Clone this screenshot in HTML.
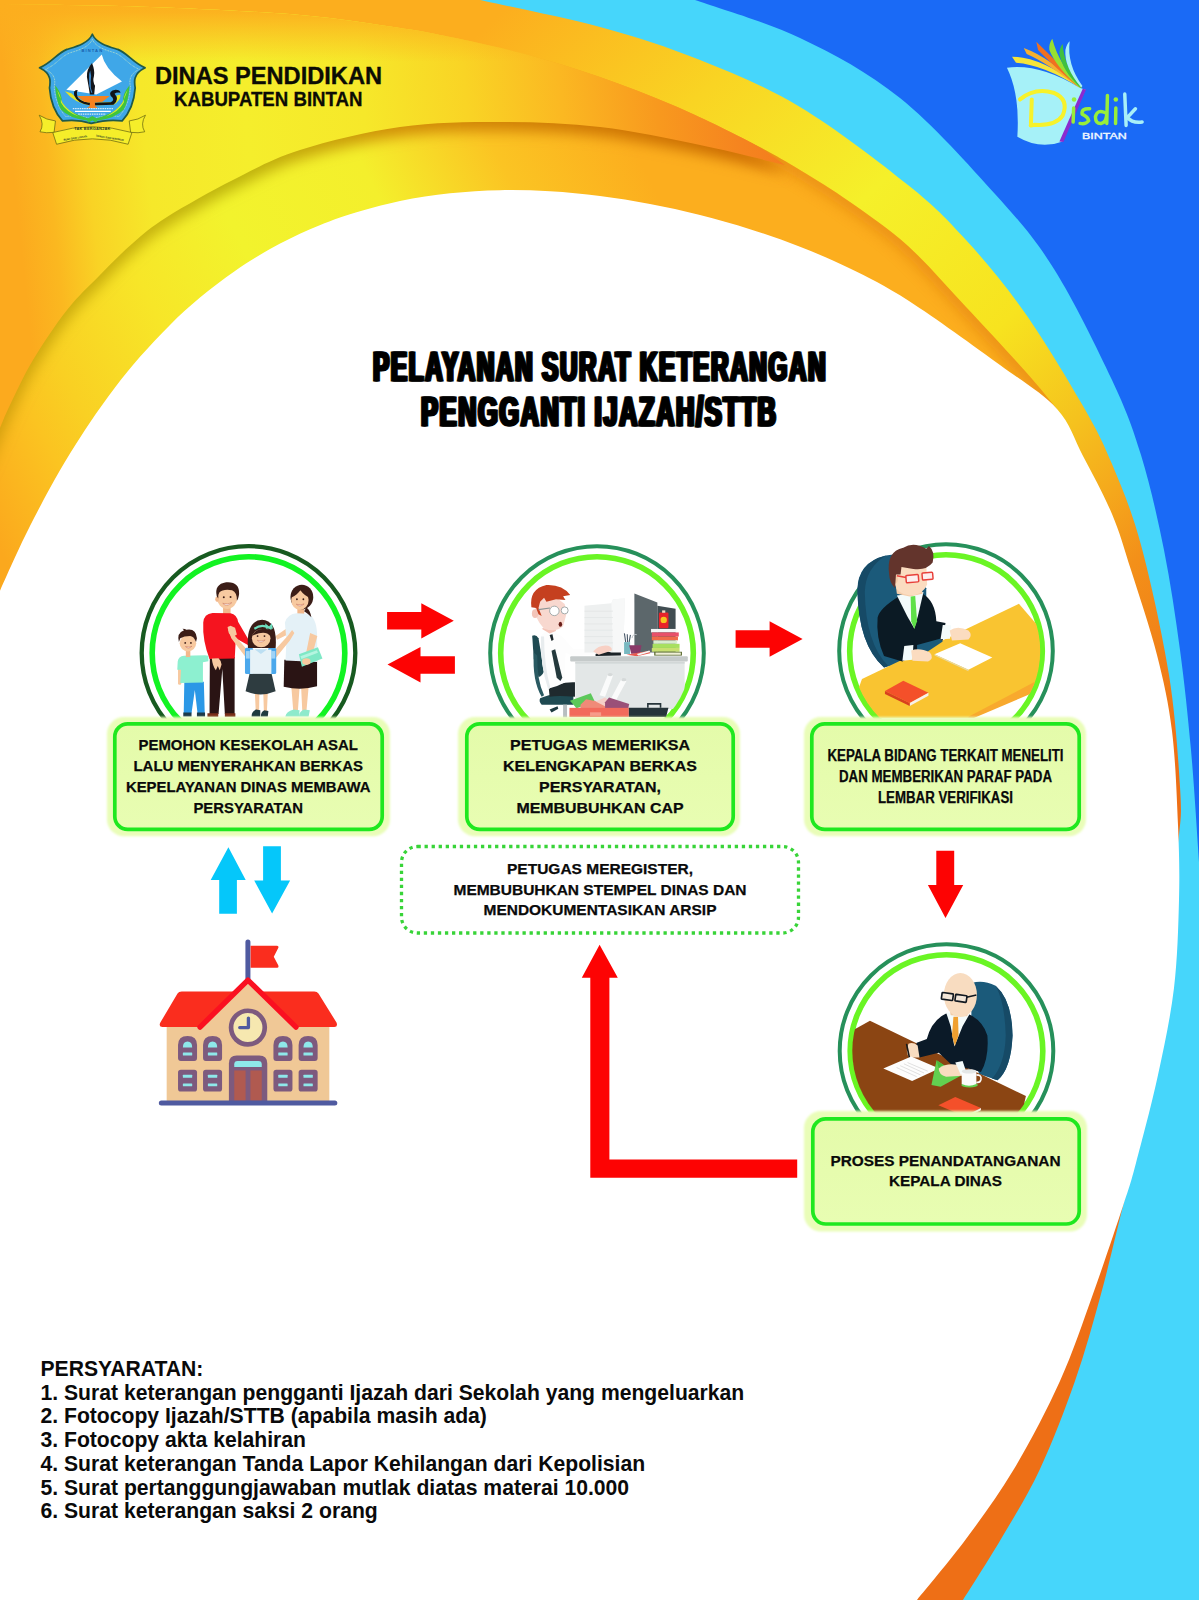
<!DOCTYPE html>
<html><head><meta charset="utf-8"><title>Pelayanan Surat Keterangan Pengganti Ijazah/STTB</title>
<style>
html,body{margin:0;padding:0;background:#fff;}
body{width:1199px;height:1600px;overflow:hidden;font-family:"Liberation Sans",sans-serif;}
svg{display:block;}
text{font-family:"Liberation Sans",sans-serif;}
</style></head><body>
<svg width="1199" height="1600" viewBox="0 0 1199 1600">
<defs>
<linearGradient id="gC" gradientUnits="userSpaceOnUse" x1="450" y1="0" x2="1200" y2="800">
<stop offset="0" stop-color="#fcae1e"/><stop offset="0.04" stop-color="#fcae1e"/><stop offset="0.22" stop-color="#f9d423"/><stop offset="0.39" stop-color="#f5f02a"/><stop offset="0.56" stop-color="#f7e31f"/><stop offset="0.67" stop-color="#f5c21e"/><stop offset="0.74" stop-color="#f5a81c"/><stop offset="0.80" stop-color="#f39019"/><stop offset="0.97" stop-color="#ee6f16"/>
</linearGradient>
<linearGradient id="gE" gradientUnits="userSpaceOnUse" x1="-220" y1="110" x2="588" y2="-294">
<stop offset="0" stop-color="#fba81d"/><stop offset="0.1" stop-color="#fbc421"/><stop offset="0.15" stop-color="#f9d023"/><stop offset="0.272" stop-color="#f7e628"/><stop offset="0.391" stop-color="#f2f32d"/><stop offset="0.55" stop-color="#f4ef2c"/><stop offset="0.688" stop-color="#fbc423"/><stop offset="0.827" stop-color="#fcae1e"/><stop offset="1" stop-color="#fcae1e"/>
</linearGradient>
<linearGradient id="gD" gradientUnits="userSpaceOnUse" x1="0" y1="40" x2="785" y2="-40">
<stop offset="0" stop-color="#fcaa1e"/><stop offset="0.045" stop-color="#fbb820"/><stop offset="0.095" stop-color="#f9d325"/><stop offset="0.17" stop-color="#f6e82a"/><stop offset="0.3" stop-color="#f5ee2c"/><stop offset="0.45" stop-color="#f6e82a"/><stop offset="0.58" stop-color="#f9d425"/><stop offset="0.70" stop-color="#fbb822"/><stop offset="0.82" stop-color="#f8991e"/><stop offset="0.92" stop-color="#f5841f"/><stop offset="1" stop-color="#f47a1c"/>
</linearGradient>
<linearGradient id="gTop" gradientUnits="userSpaceOnUse" x1="0" y1="0" x2="0" y2="62">
<stop offset="0" stop-color="#fcae1e" stop-opacity="1"/><stop offset="0.2" stop-color="#fcae1e" stop-opacity="0.92"/><stop offset="1" stop-color="#fcae1e" stop-opacity="0"/>
</linearGradient>
<linearGradient id="gSh" gradientUnits="userSpaceOnUse" x1="0" y1="0" x2="785" y2="0">
<stop offset="0" stop-color="#b08a00" stop-opacity="0.55"/><stop offset="0.3" stop-color="#a89a00" stop-opacity="0.7"/><stop offset="0.5" stop-color="#c87c00" stop-opacity="0.8"/><stop offset="1" stop-color="#c86400" stop-opacity="0.95"/>
</linearGradient>
<filter id="shD" x="-0.1" y="-0.1" width="1.2" height="1.4"><feGaussianBlur stdDeviation="7"/></filter>
<clipPath id="clipE"><path d="M0.0 4.0 C25.0 4.5 100.0 5.2 150.0 7.0 C200.0 8.8 258.3 11.5 300.0 15.0 C341.7 18.5 375.0 24.3 400.0 28.0 C425.0 31.7 429.2 32.7 450.0 37.0 C470.8 41.3 500.0 47.3 525.0 54.0 C550.0 60.7 575.0 68.3 600.0 77.0 C625.0 85.7 650.0 95.2 675.0 106.0 C700.0 116.8 729.2 131.3 750.0 142.0 C770.8 152.7 783.3 160.0 800.0 170.0 C816.7 180.0 832.0 189.3 850.0 202.0 C868.0 214.7 888.7 228.5 908.0 246.0 C927.3 263.5 946.5 286.2 966.0 307.0 C985.5 327.8 1009.8 354.0 1025.0 371.0 C1040.2 388.0 1051.7 402.7 1057.0 409.0 L600 900 L-50 900 L-50 0 Z"/></clipPath>
</defs>
<rect x="0" y="0" width="1199" height="1600" fill="url(#gC)"/>
<path d="M480.0 0.0 C500.0 4.5 563.3 17.0 600.0 27.0 C636.7 37.0 666.7 46.7 700.0 60.0 C733.3 73.3 765.3 86.2 800.0 107.0 C834.7 127.8 880.3 162.8 908.0 185.0 C935.7 207.2 946.5 218.7 966.0 240.0 C985.5 261.3 1005.5 285.3 1025.0 313.0 C1044.5 340.7 1068.5 380.8 1083.0 406.0 C1097.5 431.2 1102.3 440.8 1112.0 464.0 C1121.7 487.2 1131.5 509.8 1141.0 545.0 C1150.5 580.2 1162.5 634.7 1169.0 675.0 C1175.5 715.3 1178.3 760.3 1180.0 787.0 C1181.7 813.7 1181.0 816.2 1179.0 835.0 C1177.0 853.8 1171.2 874.5 1168.0 900.0 C1164.8 925.5 1164.2 958.8 1160.0 988.0 C1155.8 1017.2 1149.7 1045.8 1143.0 1075.0 C1136.3 1104.2 1126.3 1141.2 1120.0 1163.0 C1113.7 1184.8 1111.7 1184.2 1105.0 1206.0 C1098.3 1227.8 1089.2 1264.8 1080.0 1294.0 C1070.8 1323.2 1061.7 1351.8 1050.0 1381.0 C1038.3 1410.2 1023.3 1442.7 1010.0 1469.0 C996.7 1495.3 983.3 1517.2 970.0 1539.0 C956.7 1560.8 936.7 1589.8 930.0 1600.0 L1300 1600 L1300 0 Z" fill="#46d6fb"/>
<path d="M695.0 0.0 C712.5 6.3 765.8 21.7 800.0 38.0 C834.2 54.3 867.5 72.0 900.0 98.0 C932.5 124.0 969.3 165.5 995.0 194.0 C1020.7 222.5 1034.5 238.0 1054.0 269.0 C1073.5 300.0 1097.5 349.0 1112.0 380.0 C1126.5 411.0 1132.3 426.7 1141.0 455.0 C1149.7 483.3 1157.5 517.5 1164.0 550.0 C1170.5 582.5 1175.5 616.7 1180.0 650.0 C1184.5 683.3 1187.8 714.7 1191.0 750.0 C1194.2 785.3 1196.7 828.7 1199.0 862.0 C1201.3 895.3 1204.0 935.3 1205.0 950.0 L1300 950 L1300 0 Z" fill="#1a6af6"/>
<path d="M0.0 4.0 C25.0 4.5 100.0 5.2 150.0 7.0 C200.0 8.8 258.3 11.5 300.0 15.0 C341.7 18.5 375.0 24.3 400.0 28.0 C425.0 31.7 429.2 32.7 450.0 37.0 C470.8 41.3 500.0 47.3 525.0 54.0 C550.0 60.7 575.0 68.3 600.0 77.0 C625.0 85.7 650.0 95.2 675.0 106.0 C700.0 116.8 729.2 131.3 750.0 142.0 C770.8 152.7 783.3 160.0 800.0 170.0 C816.7 180.0 832.0 189.3 850.0 202.0 C868.0 214.7 888.7 228.5 908.0 246.0 C927.3 263.5 946.5 286.2 966.0 307.0 C985.5 327.8 1009.8 354.0 1025.0 371.0 C1040.2 388.0 1051.7 402.7 1057.0 409.0 L600 900 L-50 900 L-50 0 Z" fill="url(#gE)"/>
<g clip-path="url(#clipE)"><path d="M750.0 142.0 C758.3 146.7 783.3 160.0 800.0 170.0 C816.7 180.0 832.0 189.3 850.0 202.0 C868.0 214.7 888.7 228.5 908.0 246.0 C927.3 263.5 946.5 286.2 966.0 307.0 C985.5 327.8 1009.8 354.0 1025.0 371.0 C1040.2 388.0 1051.7 402.7 1057.0 409.0 " fill="none" stroke="#de7a0c" stroke-width="16" opacity="0.55" filter="url(#shD)"/></g>
<g clip-path="url(#clipE)"><path d="M-20 475 L-20 4 L0.0 4.0 C25.0 4.5 100.0 5.2 150.0 7.0 C200.0 8.8 258.3 11.5 300.0 15.0 C341.7 18.5 375.0 24.3 400.0 28.0 C425.0 31.7 429.2 32.7 450.0 37.0 C470.8 41.3 500.0 47.3 525.0 54.0 C550.0 60.7 575.0 68.3 600.0 77.0 C625.0 85.7 650.0 95.2 675.0 106.0 C700.0 116.8 731.7 132.2 750.0 142.0 C768.3 151.8 779.2 161.2 785.0 165.0 C770.8 161.7 730.8 151.3 700.0 145.0 C669.2 138.7 633.3 130.8 600.0 127.0 C566.7 123.2 533.3 122.0 500.0 122.0 C466.7 122.0 433.3 122.3 400.0 127.0 C366.7 131.7 327.8 141.2 300.0 150.0 C272.2 158.8 255.2 168.8 233.0 180.0 C210.8 191.2 183.7 206.5 167.0 217.0 C150.3 227.5 144.2 233.3 133.0 243.0 C121.8 252.7 111.0 263.8 100.0 275.0 C89.0 286.2 78.2 295.8 67.0 310.0 C55.8 324.2 42.5 344.2 33.0 360.0 C23.5 375.8 15.5 393.7 10.0 405.0 C4.5 416.3 5.0 416.3 0.0 428.0 C-5.0 439.7 -16.7 467.2 -20.0 475.0 Z" fill="url(#gSh)" filter="url(#shD)" transform="translate(2,9)"/></g>
<path d="M-20 475 L-20 4 L0.0 4.0 C25.0 4.5 100.0 5.2 150.0 7.0 C200.0 8.8 258.3 11.5 300.0 15.0 C341.7 18.5 375.0 24.3 400.0 28.0 C425.0 31.7 429.2 32.7 450.0 37.0 C470.8 41.3 500.0 47.3 525.0 54.0 C550.0 60.7 575.0 68.3 600.0 77.0 C625.0 85.7 650.0 95.2 675.0 106.0 C700.0 116.8 731.7 132.2 750.0 142.0 C768.3 151.8 779.2 161.2 785.0 165.0 C770.8 161.7 730.8 151.3 700.0 145.0 C669.2 138.7 633.3 130.8 600.0 127.0 C566.7 123.2 533.3 122.0 500.0 122.0 C466.7 122.0 433.3 122.3 400.0 127.0 C366.7 131.7 327.8 141.2 300.0 150.0 C272.2 158.8 255.2 168.8 233.0 180.0 C210.8 191.2 183.7 206.5 167.0 217.0 C150.3 227.5 144.2 233.3 133.0 243.0 C121.8 252.7 111.0 263.8 100.0 275.0 C89.0 286.2 78.2 295.8 67.0 310.0 C55.8 324.2 42.5 344.2 33.0 360.0 C23.5 375.8 15.5 393.7 10.0 405.0 C4.5 416.3 5.0 416.3 0.0 428.0 C-5.0 439.7 -16.7 467.2 -20.0 475.0 Z" fill="url(#gD)"/>
<clipPath id="clipD"><path d="M-20 475 L-20 4 L0.0 4.0 C25.0 4.5 100.0 5.2 150.0 7.0 C200.0 8.8 258.3 11.5 300.0 15.0 C341.7 18.5 375.0 24.3 400.0 28.0 C425.0 31.7 429.2 32.7 450.0 37.0 C470.8 41.3 500.0 47.3 525.0 54.0 C550.0 60.7 575.0 68.3 600.0 77.0 C625.0 85.7 650.0 95.2 675.0 106.0 C700.0 116.8 731.7 132.2 750.0 142.0 C768.3 151.8 779.2 161.2 785.0 165.0 C770.8 161.7 730.8 151.3 700.0 145.0 C669.2 138.7 633.3 130.8 600.0 127.0 C566.7 123.2 533.3 122.0 500.0 122.0 C466.7 122.0 433.3 122.3 400.0 127.0 C366.7 131.7 327.8 141.2 300.0 150.0 C272.2 158.8 255.2 168.8 233.0 180.0 C210.8 191.2 183.7 206.5 167.0 217.0 C150.3 227.5 144.2 233.3 133.0 243.0 C121.8 252.7 111.0 263.8 100.0 275.0 C89.0 286.2 78.2 295.8 67.0 310.0 C55.8 324.2 42.5 344.2 33.0 360.0 C23.5 375.8 15.5 393.7 10.0 405.0 C4.5 416.3 5.0 416.3 0.0 428.0 C-5.0 439.7 -16.7 467.2 -20.0 475.0 Z"/></clipPath>
<rect x="0" y="0" width="800" height="62" fill="url(#gTop)" clip-path="url(#clipD)"/>
<path d="M1150.0 1100.0 C1145.5 1117.7 1131.2 1173.7 1123.0 1206.0 C1114.8 1238.3 1109.0 1264.8 1101.0 1294.0 C1093.0 1323.2 1085.2 1351.8 1075.0 1381.0 C1064.8 1410.2 1052.3 1442.7 1040.0 1469.0 C1027.7 1495.3 1013.8 1517.2 1001.0 1539.0 C988.2 1560.8 969.3 1589.8 963.0 1600.0 L800 1600 L1000 1200 Z" fill="#ee6f16"/>
<path d="M-5.0 602.5 C-4.2 600.5 -3.3 598.3 0.0 590.8 C3.3 583.3 10.0 568.1 15.0 557.3 C20.0 546.5 24.2 537.6 30.0 526.1 C35.8 514.6 43.3 500.1 50.0 488.0 C56.7 475.9 63.3 464.5 70.0 453.6 C76.7 442.7 82.5 433.4 90.0 422.4 C97.5 411.4 106.7 398.4 115.0 387.5 C123.3 376.6 130.8 367.2 140.0 356.8 C149.2 346.4 160.0 334.8 170.0 324.9 C180.0 315.0 189.2 306.6 200.0 297.6 C210.8 288.6 223.3 279.1 235.0 271.0 C246.7 262.9 257.5 256.1 270.0 249.1 C282.5 242.2 296.7 235.1 310.0 229.3 C323.3 223.5 335.0 218.9 350.0 214.2 C365.0 209.5 383.3 204.5 400.0 201.0 C416.7 197.5 433.3 195.1 450.0 193.3 C466.7 191.5 483.3 190.5 500.0 190.2 C516.7 189.9 533.3 190.3 550.0 191.3 C566.7 192.3 583.3 193.9 600.0 196.0 C616.7 198.1 633.3 200.8 650.0 204.0 C666.7 207.2 683.3 210.8 700.0 215.0 C716.7 219.2 733.3 223.9 750.0 229.2 C766.7 234.5 783.3 240.2 800.0 246.8 C816.7 253.4 831.8 259.5 850.0 268.5 C868.2 277.5 884.0 284.9 909.0 301.0 C934.0 317.1 975.3 347.0 1000.0 365.0 C1024.7 383.0 1043.2 393.8 1057.0 409.0 C1070.8 424.2 1073.8 438.5 1083.0 456.0 C1092.2 473.5 1104.0 495.0 1112.0 514.0 C1120.0 533.0 1123.5 546.5 1131.0 570.0 C1138.5 593.5 1150.2 628.2 1157.0 655.0 C1163.8 681.8 1168.5 702.7 1172.0 731.0 C1175.5 759.3 1176.8 796.8 1178.0 825.0 C1179.2 853.2 1179.7 872.8 1179.0 900.0 C1178.3 927.2 1177.5 958.8 1174.0 988.0 C1170.5 1017.2 1164.3 1045.8 1158.0 1075.0 C1151.7 1104.2 1141.8 1141.2 1136.0 1163.0 C1130.2 1184.8 1130.2 1184.2 1123.0 1206.0 C1115.8 1227.8 1103.5 1264.8 1093.0 1294.0 C1082.5 1323.2 1073.2 1351.8 1060.0 1381.0 C1046.8 1410.2 1029.7 1442.7 1014.0 1469.0 C998.3 1495.3 982.2 1517.2 966.0 1539.0 C949.8 1560.8 925.2 1589.8 917.0 1600.0 L-10 1600 L-10 602.5 Z" fill="#ffffff"/>
<defs>
<filter id="glowBlur" x="-0.05" y="-0.1" width="1.1" height="1.2"><feGaussianBlur stdDeviation="0.9"/></filter>
<linearGradient id="gBox" x1="0" y1="0" x2="0" y2="1"><stop offset="0" stop-color="#e4fbaa"/><stop offset="1" stop-color="#e8fdb2"/></linearGradient>
</defs>
<!--C1--><circle cx="248.5" cy="653" r="106.8" fill="#fff" stroke="#175a20" stroke-width="4.3"/><circle cx="248.5" cy="653" r="96.3" fill="none" stroke="#12f322" stroke-width="5.6"/>
<!--C2--><circle cx="597" cy="653" r="106.8" fill="#fff" stroke="#26905a" stroke-width="4.0"/><circle cx="597" cy="653" r="96.3" fill="none" stroke="#6af524" stroke-width="5.6"/>
<!--C3--><circle cx="946" cy="651" r="106.8" fill="#fff" stroke="#26905a" stroke-width="4.0"/><circle cx="946" cy="651" r="96.3" fill="none" stroke="#6af524" stroke-width="5.6"/>
<!--C4--><circle cx="946.5" cy="1051" r="106.8" fill="#fff" stroke="#26905a" stroke-width="4.0"/><circle cx="946.5" cy="1051" r="96.3" fill="none" stroke="#6af524" stroke-width="5.6"/>
<!-- family illustration -->
<defs><clipPath id="clipC1"><circle cx="248.5" cy="653" r="95"/></clipPath></defs>
<g transform="translate(160,570) scale(0.15013)">
<!-- boy -->
<g>
<rect x="120" y="640" width="22" height="125" rx="10" fill="#f7c9a0"/>
<path d="M162 745 H292 L298 955 H250 L232 800 L210 955 H158 Z" fill="#2b98e6"/>
<path d="M155 950 h55 v25 h-55 z M246 950 h54 v25 h-54 z" fill="#1e3a4a"/>
<path d="M118 610 Q122 575 160 572 L300 568 L322 572 L322 608 L286 615 L286 750 L135 752 L140 665 L115 665 Z" fill="#8df0d0"/>
<rect x="172" y="535" width="30" height="45" fill="#f2b88c"/>
<ellipse cx="186" cy="488" rx="55" ry="55" fill="#f7c9a0"/>
<path d="M126 480 Q110 420 160 402 L150 392 Q170 392 175 398 Q240 385 246 455 L240 480 Q225 440 200 440 Q160 440 135 455 Z" fill="#3b1d17"/>
<circle cx="168" cy="486" r="6" fill="#3b1d17"/><circle cx="206" cy="486" r="6" fill="#3b1d17"/>
<path d="M170 510 Q190 530 212 508 Q192 518 170 510Z" fill="#fff" stroke="#c0604a" stroke-width="3"/>
</g>
<!-- dad -->
<g>
<path d="M332 580 H497 L497 960 H432 L415 660 L390 960 H330 Z" fill="#2a1414"/>
<path d="M316 955 h72 v22 h-72 z M432 955 h70 v22 h-70 z" fill="#7a2e1a"/>
<rect x="420" y="245" width="50" height="60" fill="#f2b88c"/>
<path d="M288 350 Q292 292 350 286 L470 288 Q512 296 520 345 L592 468 L585 500 L505 455 L498 590 L330 592 Q282 470 288 350 Z" fill="#f5141f"/>
<path d="M345 590 Q350 640 372 668 L385 640 L398 668 L410 630 Q405 600 390 588 Z" fill="#f7c9a0"/>
<ellipse cx="447" cy="182" rx="68" ry="78" fill="#f7c9a0"/>
<ellipse cx="380" cy="195" rx="12" ry="18" fill="#f2b88c"/>
<path d="M378 175 Q360 95 440 82 Q530 75 527 160 Q522 195 512 205 Q515 150 480 135 Q420 125 395 150 Q385 165 388 190 Z" fill="#3b1d17"/>
<circle cx="425" cy="182" r="6.5" fill="#3b1d17"/><circle cx="470" cy="180" r="6.5" fill="#3b1d17"/>
<path d="M418 222 Q445 250 478 218 Q448 232 418 222Z" fill="#fff" stroke="#c0604a" stroke-width="3"/>
</g>
<!-- mom -->
<g>
<path d="M875 780 H930 L918 945 H888 Z M940 780 H990 L975 945 H948 Z" fill="#f7c9a0"/>
<path d="M835 975 Q840 945 890 930 L930 935 L925 975 Z M925 975 Q930 940 960 930 L998 935 L990 975 Z" fill="#8eeacc"/>
<path d="M828 598 H1046 L1046 775 Q940 805 824 778 Z" fill="#2a1414"/>
<path d="M770 440 L850 385 L870 420 L780 465 Z" fill="#f7c9a0"/>
<rect x="915" y="250" width="46" height="55" fill="#f2b88c"/>
<path d="M832 350 Q850 292 910 288 L985 292 Q1040 315 1046 420 L1048 612 L836 602 L842 470 Z" fill="#e4f1f7"/>
<path d="M1000 420 L1048 440 L1000 620 L962 610 Z" fill="#f7c9a0"/>
<path d="M925 562 L1052 515 L1082 590 L945 645 Z" fill="#7fe8c6"/>
<path d="M935 575 L1045 535 L1052 552 L942 592 Z" fill="#b5f5e0"/>
<ellipse cx="975" cy="610" rx="28" ry="22" fill="#f7c9a0"/>
<path d="M975 250 Q1000 265 1008 315 Q985 290 960 275 Z" fill="#3b1d17"/>
<ellipse cx="945" cy="180" rx="76" ry="82" fill="#3b1d17"/>
<ellipse cx="932" cy="200" rx="58" ry="66" fill="#f7c9a0"/>
<path d="M872 185 Q880 120 950 118 Q1000 125 1005 190 Q960 170 935 135 Q915 165 872 185 Z" fill="#3b1d17"/>
<circle cx="912" cy="195" r="6" fill="#3b1d17"/><circle cx="955" cy="195" r="6" fill="#3b1d17"/>
<path d="M908 228 Q932 252 960 226 Q934 238 908 228Z" fill="#fff" stroke="#c0604a" stroke-width="3"/>
</g>
<!-- girl -->
<g>
<path d="M632 820 H662 L660 945 H638 Z M688 820 H718 L712 945 H692 Z" fill="#f7c9a0"/>
<path d="M610 975 Q610 940 640 930 L668 935 L668 975 Z M672 975 Q672 945 695 935 L722 940 L718 975 Z" fill="#1e3a40"/>
<path d="M598 685 H742 L770 808 Q670 850 570 808 Z" fill="#2e3c40"/>
<path d="M605 560 L500 440 L470 395 L455 400 L475 455 L585 600 Z" fill="#f7c9a0"/>
<path d="M450 380 L470 372 L500 385 L512 430 L480 450 L458 420 Z" fill="#f7c9a0"/>
<path d="M740 560 L850 440 L880 400 L895 420 L865 470 L760 600 Z" fill="#f7c9a0"/>
<rect x="566" y="518" width="54" height="175" rx="10" fill="#4ba8ec"/>
<rect x="720" y="518" width="54" height="175" rx="10" fill="#4ba8ec"/>
<rect x="572" y="540" width="26" height="50" fill="#9fd3f7"/><rect x="742" y="540" width="26" height="50" fill="#9fd3f7"/>
<path d="M600 530 H742 V692 H600 Z" fill="#e6f2f7"/>
<path d="M630 528 L672 560 L715 528 Z" fill="#bcdff2"/>
<path d="M586 520 Q572 338 680 332 Q785 338 770 520 Z" fill="#3b1d17"/>
<ellipse cx="674" cy="455" rx="62" ry="60" fill="#f7c9a0"/>
<path d="M612 440 Q640 385 700 395 Q735 405 735 440 Q700 395 612 440 Z" fill="#3b1d17"/>
<path d="M625 385 Q680 345 745 385 L740 398 Q680 362 632 398 Z" fill="#6fe0c0"/>
<path d="M700 355 L748 395 L705 390 Z M745 355 L710 395 L752 392 Z" fill="#6fe0c0"/>
<circle cx="650" cy="440" r="6" fill="#3b1d17"/><circle cx="696" cy="440" r="6" fill="#3b1d17"/>
<path d="M648 468 Q672 495 700 466 Q673 480 648 468Z" fill="#fff" stroke="#c0604a" stroke-width="3"/>
</g>
</g>

<!-- officer at desk -->
<defs><clipPath id="clipC2"><circle cx="597" cy="653" r="94.5"/></clipPath></defs>
<g clip-path="url(#clipC2)">
<g transform="translate(510,570) scale(0.15846)">
<!-- chair -->
<path d="M140 415 Q165 405 180 430 L215 640 Q200 670 180 675 L150 560 Z" fill="#1f4a52"/>
<path d="M150 520 Q140 700 200 800 L215 790 Q170 700 172 540 Z" fill="#2a5a62"/>
<path d="M190 810 Q260 770 400 790 L400 850 L200 850 Q180 830 190 810 Z" fill="#1f4a52"/>
<rect x="335" y="850" width="25" height="80" fill="#b8bec0"/>
<path d="M250 880 L300 860 L305 875 L262 900 Z" fill="#1f3a40"/>
<!-- legs/pants -->
<path d="M245 750 Q300 705 410 708 L410 800 Q300 790 250 800 Z" fill="#1f2a2e"/>
<!-- body shirt -->
<path d="M195 420 Q215 380 260 385 L330 420 L400 500 L540 500 L545 530 L400 545 L350 520 L345 710 Q290 740 240 750 Q190 600 195 420 Z" fill="#fdfdfd"/>
<path d="M195 420 Q190 600 240 750 L255 745 Q215 600 215 420 Z" fill="#e8ecee"/>
<!-- tie -->
<path d="M250 410 L268 405 L275 440 L262 448 Z" fill="#1f2a2e"/>
<path d="M262 510 L285 500 L330 680 L318 700 L295 680 Z" fill="#24393c"/>
<!-- head -->
<path d="M200 370 L250 400 L290 385 L280 340 Z" fill="#f3c4b8"/>
<path d="M160 235 Q150 300 215 370 Q290 395 335 355 L350 300 L358 270 L345 215 L300 180 L200 175 Z" fill="#f8d8cf"/>
<ellipse cx="158" cy="275" rx="20" ry="28" fill="#f3c4b8"/>
<path d="M135 235 Q120 120 230 95 Q330 90 380 158 L335 165 L350 190 L290 185 L230 200 L215 175 L190 200 L180 240 L200 290 L180 280 L165 240 Z" fill="#c5401f"/>
<circle cx="280" cy="258" r="30" fill="#ffffff" stroke="#a0a8a8" stroke-width="6"/>
<circle cx="345" cy="255" r="22" fill="#ffffff" stroke="#a0a8a8" stroke-width="6"/>
<path d="M180 250 L252 240" stroke="#8a9494" stroke-width="7"/>
<ellipse cx="318" cy="342" rx="11" ry="16" fill="#6a1f1a"/>
<!-- paper stack -->
<path d="M470 225 L640 210 L650 185 L725 180 L715 520 L470 520 Z" fill="#eef0f0"/>
<path d="M640 210 L650 185 L725 180 L715 520 L650 520 Z" fill="#f7f8f8"/>
<g stroke="#e0e3e3" stroke-width="4"><path d="M470 260 H650 M470 300 H650 M470 340 H650 M470 380 H650 M470 420 H650 M470 460 H650"/></g>
<!-- monitor -->
<path d="M785 148 L930 205 L930 520 L785 520 Z" fill="#5c676b"/>
<path d="M930 225 L1045 245 L1045 520 L930 520 Z" fill="#414d52"/>
<!-- can -->
<rect x="940" y="268" width="60" height="100" rx="8" fill="#e8232a"/>
<circle cx="970" cy="315" r="20" fill="#f7c51e"/>
<rect x="960" y="255" width="20" height="15" fill="#f3d9c0"/>
<!-- books -->
<rect x="890" y="372" width="160" height="22" fill="#f4f6f6"/>
<rect x="895" y="394" width="170" height="26" fill="#e8506a"/>
<rect x="895" y="420" width="165" height="24" fill="#f06a4a"/>
<rect x="905" y="444" width="150" height="22" fill="#d8ecd0"/>
<rect x="900" y="466" width="170" height="26" fill="#a8e060"/>
<rect x="895" y="492" width="175" height="24" fill="#c8e070"/>
<rect x="910" y="516" width="175" height="24" fill="#5a6a30"/><rect x="918" y="521" width="160" height="14" fill="#f0f0d8"/>
<!-- pencil cup, mug -->
<path d="M722 400 L730 455 M740 405 L742 455 M760 410 L752 455" stroke="#4a5a6a" stroke-width="7"/>
<path d="M770 430 Q775 400 800 408" stroke="#b8c0c4" stroke-width="6" fill="none"/>
<rect x="720" y="455" width="38" height="75" fill="#78b8c0"/>
<path d="M752 475 H830 L820 528 H765 Z" fill="#8a3a68"/>
<path d="M735 535 L880 510 L885 525 L800 545 Z" fill="#e85a50"/>
<path d="M800 530 L880 508 L885 518 L810 540 Z" fill="#f4f6f6"/>
<!-- keyboard/mouse -->
<path d="M540 530 Q590 505 640 520 L700 520 L700 540 L540 542 Z" fill="#1a2226"/>
<!-- hand -->
<path d="M525 515 Q560 470 620 478 Q650 490 640 510 L560 535 Z" fill="#f8d0c4"/>
<!-- desk -->
<rect x="380" y="545" width="742" height="32" rx="6" fill="#c5caca"/>
<rect x="412" y="577" width="690" height="300" fill="#e3e7e7"/>
<rect x="412" y="577" width="690" height="14" fill="#d2d7d7"/>
<path d="M620 655 L650 665 L600 800 L565 790 Z M705 685 L735 700 L665 830 L635 815 Z" fill="#fafbfb"/>
<ellipse cx="632" cy="660" rx="16" ry="10" fill="#d5d9d9"/><ellipse cx="718" cy="692" rx="16" ry="10" fill="#d5d9d9"/>
<!-- floor items -->
<path d="M378 825 L510 778 L535 830 L420 872 Z" fill="#5cc85a"/>
<path d="M445 850 L480 815 L600 840 L600 875 L445 875 Z" fill="#f08a78"/>
<path d="M540 830 L600 805 L640 835 L600 860 Z" fill="#f5d0c8"/>
<path d="M600 835 L625 805 L752 845 L745 880 L600 875 Z" fill="#9a5078"/>
<rect x="375" y="870" width="375" height="58" fill="#f26a5c"/>
<rect x="505" y="898" width="70" height="22" fill="#f79a8a"/>
<path d="M750 870 H1000 L985 928 H750 Z" fill="#26343a"/>
<path d="M870 870 V845 H950 V870" fill="none" stroke="#26343a" stroke-width="10"/>
</g></g>

<!-- kepala bidang -->
<defs><clipPath id="clipC3"><circle cx="946" cy="651" r="94.2"/></clipPath>
<clipPath id="clipC3b"><rect x="820" y="520" width="260" height="198"/></clipPath></defs>
<g clip-path="url(#clipC3b)">
<g transform="translate(840,535) scale(0.18349)">
<!-- chair (overlaps rings) -->
<path d="M95 300 Q95 150 250 112 L300 105 L470 290 L470 600 L330 700 L240 722 Q100 600 95 300 Z" fill="#1b5a7a"/>
<path d="M95 300 Q100 600 240 722 L262 712 Q140 590 135 310 Q140 180 250 112 Q100 150 95 300Z" fill="#164a66"/>
</g>
<g clip-path="url(#clipC3)"><g transform="translate(840,535) scale(0.18349)">
<!-- desk -->
<path d="M120 785 L975 375 L1100 520 L1100 800 L700 1000 L40 1000 Z" fill="#f9c431"/>
<path d="M1100 780 L700 990 L700 1010 L1100 840 Z" fill="#f8a92e"/>
<path d="M515 650 L655 590 L830 668 L700 735 Z" fill="#ffffff"/>
<path d="M515 650 L700 735 L700 742 L515 657 Z" fill="#e8d9a0"/>
<path d="M245 850 L345 795 L482 860 L380 915 Z" fill="#f4502a"/>
<path d="M380 915 L482 860 L482 876 L380 932 Z" fill="#f7f0ea"/>
<path d="M245 850 L380 915 L380 932 L245 866 Z" fill="#d8401e"/>
</g></g>
<g transform="translate(840,535) scale(0.18349)">
<!-- body suit -->
<path d="M205 450 Q215 400 320 335 L450 320 Q520 360 525 470 L575 480 L560 575 L470 600 L420 640 L340 690 L240 660 Q195 560 205 450 Z" fill="#0b1a24"/>
<path d="M420 600 L545 565 L560 580 L470 640 L420 640 Z" fill="#1b5a7a"/>
<!-- shirt -->
<path d="M310 330 L455 310 L425 440 L405 510 L365 440 Z" fill="#f4fbfb"/>
<path d="M385 335 L410 332 L420 470 L405 512 L388 470 Z" fill="#5fe048"/>
<!-- cuffs & hands -->
<path d="M560 490 L605 492 L600 565 L548 568 Z" fill="#f4fbfb"/>
<path d="M598 520 Q640 490 700 520 Q725 545 700 570 L610 575 Z" fill="#fbdcc0"/>
<path d="M350 605 L400 600 L395 680 L340 685 Z" fill="#f4fbfb"/>
<path d="M388 630 Q430 610 490 640 Q515 670 480 690 L395 685 Z" fill="#fbdcc0"/>
<!-- head -->
<path d="M300 250 L440 260 L450 320 L380 335 L310 320 Z" fill="#f5cdaa"/>
<path d="M285 225 Q280 160 340 150 L470 160 L475 270 Q450 330 380 330 Q310 320 300 270 Z" fill="#fbdcc0"/>
<ellipse cx="298" cy="240" rx="18" ry="24" fill="#f5cdaa"/>
<path d="M268 215 Q250 90 345 70 Q400 35 470 75 L485 60 Q520 90 505 150 Q470 195 400 185 L335 175 L330 215 L305 215 L300 290 Q270 260 268 215 Z" fill="#63342c"/>
<g fill="#fdeeee" stroke="#e8403a" stroke-width="8"><rect x="360" y="218" width="68" height="40" rx="5" transform="rotate(-5 394 238)"/><rect x="448" y="205" width="58" height="38" rx="5" transform="rotate(-5 477 224)"/></g>
<path d="M310 222 L360 232" stroke="#e8403a" stroke-width="8"/>
</g>
</g>

<!-- kepala dinas -->
<defs><clipPath id="clipC4"><circle cx="946.5" cy="1051" r="94.2"/></clipPath></defs>
<g clip-path="url(#clipC4)">
<g transform="translate(836,940) scale(0.18349)">
<!-- chair -->
<path d="M740 235 Q800 215 870 250 Q960 330 962 520 Q955 700 880 765 L780 730 L735 600 Z" fill="#1b5a7a"/>
<path d="M870 250 Q960 330 962 520 Q955 700 880 765 L850 755 Q920 680 925 520 Q920 340 870 250Z" fill="#164a66"/>
<!-- desk -->
<path d="M60 510 L185 440 L1035 850 L1010 960 L100 960 Z" fill="#8b4513"/>
<path d="M60 510 L100 960 L300 960 L120 600 Z" fill="#6f3610" opacity="0"/>
<path d="M190 880 L1010 940 L1010 960 L190 960 Z" fill="#6b3410" opacity="0.0"/>
<!-- body -->
<path d="M600 400 Q520 440 495 540 L440 560 L430 600 L455 640 L560 615 L640 690 L720 700 L790 720 Q835 640 825 520 Q800 440 725 405 Z" fill="#0b1a28"/>
<!-- collar/shirt -->
<path d="M600 395 L730 400 L690 470 L645 580 L625 470 Z" fill="#f4fbfb"/>
<path d="M640 418 L665 418 L668 520 L648 578 L632 520 Z" fill="#f0a030"/>
<!-- head -->
<path d="M620 380 L720 385 L715 415 L625 410 Z" fill="#f0cba8"/>
<ellipse cx="678" cy="300" rx="90" ry="120" fill="#f8dcc0"/>
<g fill="#f3e6d8" stroke="#111820" stroke-width="9"><rect x="576" y="290" width="62" height="36" rx="4" transform="rotate(8 607 308)"/><rect x="650" y="300" width="62" height="36" rx="4" transform="rotate(8 681 318)"/></g>
<path d="M712 312 L765 300" stroke="#111820" stroke-width="9"/>
<!-- left hand w/ pen -->
<path d="M395 565 Q420 555 445 575 L455 640 L400 640 Q375 610 395 565Z" fill="#f8dcc0"/>
<path d="M385 570 L400 640" stroke="#1a1a1a" stroke-width="9" stroke-linecap="round"/>
<path d="M425 560 L490 545 L500 600 L450 625 Z" fill="#f4fbfb" opacity="0"/>
<!-- paper -->
<path d="M258 700 L410 635 L562 700 L415 768 Z" fill="#fdfdfd"/>
<g stroke="#c8c8c8" stroke-width="3"><path d="M330 695 L440 745 M350 685 L460 735 M370 675 L480 725 M390 668 L500 715"/></g>
<!-- envelope -->
<path d="M520 790 L548 655 L585 680 L680 740 L570 800 Z" fill="#62d050"/>
<path d="M548 655 L585 680 L560 700 Z" fill="#4ab83c"/>
<!-- right hand -->
<path d="M560 700 Q600 670 660 680 L700 700 L690 740 L600 745 Q560 735 560 700Z" fill="#f8dcc0"/>
<path d="M650 668 L690 660 L710 720 L680 735 Z" fill="#f4fbfb"/>
<!-- mug -->
<ellipse cx="728" cy="790" rx="45" ry="14" fill="#62d050"/>
<path d="M685 715 H765 V785 Q725 805 685 785 Z" fill="#fbfbfb"/>
<ellipse cx="725" cy="716" rx="40" ry="12" fill="#e3e6e6"/>
<path d="M765 735 Q795 735 790 760 Q785 780 765 775" fill="none" stroke="#fbfbfb" stroke-width="9"/>
<!-- red book -->
<path d="M558 900 L650 855 L790 915 L700 960 Z" fill="#f4502a"/>
<path d="M700 960 L790 915 L790 928 L715 965 Z" fill="#f7f0ea"/>
</g></g>

<!-- school -->
<g transform="translate(150,930) scale(0.16681)">
<path d="M587 72 V300" stroke="#4f5aa0" stroke-width="30" stroke-linecap="round"/>
<path d="M603 95 H762 Q775 97 768 110 L742 160 L768 210 Q775 225 762 227 H603 Z" fill="#fa2d1e"/>
<path d="M100 575 H1075 V1032 H100 Z" fill="#f0c896"/>
<path d="M75 582 Q50 580 62 555 L165 380 Q172 368 190 368 H985 Q1002 368 1010 380 L1118 555 Q1128 580 1105 582 Z" fill="#fa2d1e"/>
<path d="M280 600 L587 305 L895 600 Z" fill="#f0c896"/>
<path d="M300 582 L587 300 L875 582" fill="none" stroke="#fa1020" stroke-width="32" stroke-linecap="round" stroke-linejoin="round"/>
<circle cx="587" cy="585" r="101" fill="#f6e8b0" stroke="#7d5a7e" stroke-width="28"/>
<path d="M590 528 V585 H538" fill="none" stroke="#4f5aa0" stroke-width="20" stroke-linecap="round" stroke-linejoin="round"/>
<path d="M185 785 Q168 785 168 768 V690 Q168 635 225 635 Q282 635 282 690 V768 Q282 785 265 785 Z" fill="#7d5a7e"/>
<path d="M197 705 Q197 668 225 668 Q253 668 253 705 Z" fill="#8ee8ea"/>
<rect x="197" y="735" width="56" height="17" rx="3" fill="#8ee8ea"/>
<rect x="168" y="838" width="114" height="130" rx="17" fill="#7d5a7e"/>
<rect x="197" y="868" width="56" height="17" rx="3" fill="#8ee8ea"/>
<rect x="197" y="920" width="56" height="17" rx="3" fill="#8ee8ea"/>
<path d="M335 785 Q318 785 318 768 V690 Q318 635 375 635 Q432 635 432 690 V768 Q432 785 415 785 Z" fill="#7d5a7e"/>
<path d="M347 705 Q347 668 375 668 Q403 668 403 705 Z" fill="#8ee8ea"/>
<rect x="347" y="735" width="56" height="17" rx="3" fill="#8ee8ea"/>
<rect x="318" y="838" width="114" height="130" rx="17" fill="#7d5a7e"/>
<rect x="347" y="868" width="56" height="17" rx="3" fill="#8ee8ea"/>
<rect x="347" y="920" width="56" height="17" rx="3" fill="#8ee8ea"/>
<path d="M757 785 Q740 785 740 768 V690 Q740 635 797 635 Q854 635 854 690 V768 Q854 785 837 785 Z" fill="#7d5a7e"/>
<path d="M769 705 Q769 668 797 668 Q825 668 825 705 Z" fill="#8ee8ea"/>
<rect x="769" y="735" width="56" height="17" rx="3" fill="#8ee8ea"/>
<rect x="740" y="838" width="114" height="130" rx="17" fill="#7d5a7e"/>
<rect x="769" y="868" width="56" height="17" rx="3" fill="#8ee8ea"/>
<rect x="769" y="920" width="56" height="17" rx="3" fill="#8ee8ea"/>
<path d="M908 785 Q891 785 891 768 V690 Q891 635 948 635 Q1005 635 1005 690 V768 Q1005 785 988 785 Z" fill="#7d5a7e"/>
<path d="M920 705 Q920 668 948 668 Q976 668 976 705 Z" fill="#8ee8ea"/>
<rect x="920" y="735" width="56" height="17" rx="3" fill="#8ee8ea"/>
<rect x="891" y="838" width="114" height="130" rx="17" fill="#7d5a7e"/>
<rect x="920" y="868" width="56" height="17" rx="3" fill="#8ee8ea"/>
<rect x="920" y="920" width="56" height="17" rx="3" fill="#8ee8ea"/>
<path d="M473 1032 V800 Q473 752 520 752 H655 Q703 752 703 800 V1032 Z" fill="#7d5a7e"/>
<path d="M505 822 V805 Q505 785 525 785 H650 Q670 785 670 805 V822 Z" fill="#8ee8ea"/>
<rect x="505" y="842" width="68" height="182" fill="#b05a50"/><rect x="602" y="842" width="68" height="182" fill="#b05a50"/>
<path d="M68 1037 H1108" stroke="#4f5aa0" stroke-width="30" stroke-linecap="round"/>
</g>
<!-- emblem -->
<g transform="translate(30,25) scale(0.10842)">
<!-- ribbon tails -->
<path d="M85 832 Q150 875 235 885 L222 990 Q150 1000 92 985 Q135 915 85 832 Z" fill="#f5ee2a" stroke="#6a6a10" stroke-width="7"/>
<path d="M1065 832 Q1000 875 915 885 L928 990 Q1000 1000 1058 985 Q1015 915 1065 832 Z" fill="#f5ee2a" stroke="#6a6a10" stroke-width="7"/>
<!-- shield -->
<path id="shield" d="M575 85 C540 170 420 200 340 225 C250 260 200 350 88 395 C200 450 190 520 180 580 C190 720 240 820 300 885 C400 870 480 880 565 908 C670 880 750 870 850 885 C910 820 960 720 970 580 C960 520 950 450 1062 395 C950 350 900 260 810 225 C730 200 610 170 575 85 Z" fill="#3fa7e8" stroke="#1f5a4a" stroke-width="16" stroke-linejoin="round"/>
<g transform="translate(575,520) scale(0.89) translate(-575,-520)"><path d="M575 85 C540 170 420 200 340 225 C250 260 200 350 88 395 C200 450 190 520 180 580 C190 720 240 820 300 885 C400 870 480 880 565 908 C670 880 750 870 850 885 C910 820 960 720 970 580 C960 520 950 450 1062 395 C950 350 900 260 810 225 C730 200 610 170 575 85 Z" fill="none" stroke="#bfe6c8" stroke-width="9" stroke-dasharray="9 8"/></g>
<text x="575" y="248" font-size="38" font-weight="bold" fill="#1a5fae" text-anchor="middle" letter-spacing="10">BINTAN</text>
<!-- leaves -->
<path d="M232 555 Q300 640 290 700 Q330 790 470 840 L545 865 L520 880 Q360 860 285 780 Q240 700 232 555 Z" fill="#3ec43e"/>
<path d="M250 600 Q290 660 285 715 Q330 800 450 845 Q350 790 300 720 Q270 660 250 600 Z" fill="#d8ec30"/>
<path d="M918 555 Q850 640 860 700 Q820 790 680 840 L605 865 L630 880 Q790 860 865 780 Q910 700 918 555 Z" fill="#3ec43e"/>
<path d="M900 600 Q860 660 865 715 Q820 800 700 845 Q800 790 850 720 Q880 660 900 600 Z" fill="#d8ec30"/>
<path d="M520 870 L575 840 L630 870 L610 900 L575 880 L540 900 Z" fill="#3ec43e"/>
<!-- sail -->
<path d="M662 272 Q690 400 848 520 L612 640 L335 598 Z" fill="#ffffff"/>
<!-- yellow hull -->
<path d="M322 612 Q420 730 560 742 L770 735 Q835 700 835 640 L800 650 Q790 700 750 712 L560 716 Q450 700 380 630 Z" fill="#e6e424"/>
<!-- black hull -->
<path d="M408 650 Q395 600 440 600 Q420 640 450 680 Q500 718 570 718 L745 712 Q790 690 745 655 Q720 610 790 598 Q830 598 835 625 Q800 615 780 635 Q830 690 770 735 L560 742 Q440 730 408 650 Z" fill="#101418"/>
<!-- orange pedestal -->
<path d="M435 655 H735 L668 708 L598 714 L602 750 L625 765 H525 L550 750 L553 714 L500 708 Z" fill="#f5821f"/>
<!-- mast / kris -->
<path d="M572 350 Q600 420 590 470 Q575 520 600 560 L592 640 L552 640 Q540 560 525 480 Q520 410 572 350 Z" fill="#12161c"/>
<path d="M555 420 Q570 470 560 520 Q555 580 575 625 L565 625 Q540 560 545 500 Q540 450 555 420 Z" fill="#3a8ad0"/>
<!-- waves -->
<g stroke="#ffffff" stroke-width="9" stroke-dasharray="14 7"><path d="M395 772 H765"/><path d="M445 822 H700"/></g>
<path d="M415 797 H745" stroke="#ffffff" stroke-width="10"/>
<!-- ribbon band -->
<path d="M210 992 Q575 885 940 992 L905 1100 Q575 1000 245 1100 Z" fill="#f5ee2a" stroke="#6a6a10" stroke-width="7" stroke-linejoin="round"/>
<text x="575" y="972" font-size="36" font-weight="bold" fill="#2a3a2a" letter-spacing="2" text-anchor="middle">TAK BERGANJAK</text>
<text x="420" y="1050" font-size="24" font-weight="bold" fill="#2a3a2a" text-anchor="middle" transform="rotate(-9 420 1050)">BUMI SARI LOHAS,</text>
<text x="735" y="1050" font-size="24" font-weight="bold" fill="#2a3a2a" text-anchor="middle" transform="rotate(9 735 1050)">TANAH SARI MAKMUR</text>
</g>

<!-- disdik logo -->
<g transform="translate(1000,30) scale(0.13345)">
<!-- fanned pages -->
<path d="M90 200 Q300 200 600 420 L610 440 Q330 260 120 245 Z" fill="#f5e43a"/>
<path d="M178 135 Q360 200 605 425 L600 440 Q360 250 200 180 Z" fill="#f5b030"/>
<path d="M272 88 Q420 230 610 430 L600 438 Q400 270 285 150 Z" fill="#f07020"/>
<path d="M392 65 Q440 260 612 428 L600 436 Q420 280 370 150 Q365 100 392 65 Z" fill="#98e030"/>
<path d="M470 105 Q480 280 615 425 L605 434 Q460 300 445 170 Q450 125 470 105 Z" fill="#40c040"/>
<path d="M522 85 Q500 260 618 420 L608 430 Q480 280 490 150 Q500 105 522 85 Z" fill="#a8f0f8"/>
<!-- book page -->
<path d="M52 282 Q300 250 600 435 L640 445 L470 835 Q300 900 130 800 Q150 480 52 282 Z" fill="#a6f1f8"/>
<!-- spine -->
<path d="M620 440 L645 445 L475 840 L445 835 Z" fill="#8a2ad0"/>
<!-- D -->
<path d="M150 520 Q260 430 400 470 Q520 520 470 640 Q420 720 260 710 L230 715" fill="none" stroke="#f7f22a" stroke-width="30" stroke-linecap="round"/>
<path d="M238 520 L232 700" fill="none" stroke="#f7f22a" stroke-width="30" stroke-linecap="round"/>
<!-- isdi -->
<g fill="none" stroke="#98ee3a" stroke-width="26" stroke-linecap="round" stroke-linejoin="round">
<path d="M552 585 L548 690"/>
<path d="M672 590 Q610 585 615 630 Q660 650 665 680 Q640 710 600 700"/>
<path d="M790 620 Q730 590 715 650 Q715 705 760 700 Q800 690 800 620 M805 490 L800 700"/>
<path d="M868 585 L866 700"/>
</g>
<circle cx="555" cy="520" r="17" fill="#98ee3a"/><circle cx="868" cy="520" r="17" fill="#98ee3a"/>
<!-- k -->
<path d="M935 480 L945 715 M1015 590 L955 655 Q990 700 1065 690" fill="none" stroke="#a8f0f8" stroke-width="26" stroke-linecap="round" stroke-linejoin="round"/>
<text x="782" y="814" font-size="71" fill="#eef6ff" stroke="#eef6ff" stroke-width="3" text-anchor="middle" textLength="335" lengthAdjust="spacingAndGlyphs">BINTAN</text>
</g>

<rect x="107" y="717" width="283" height="119.29999999999995" rx="17" fill="#e9fdb8" filter="url(#glowBlur)"/><rect x="114.8" y="723.8" width="267.4" height="105.60000000000005" rx="13" fill="url(#gBox)" stroke="#1fe81f" stroke-width="3.7"/>
<rect x="458" y="717" width="282" height="119.29999999999995" rx="17" fill="#e9fdb8" filter="url(#glowBlur)"/><rect x="466.8" y="723.8" width="266.4" height="105.60000000000005" rx="13" fill="url(#gBox)" stroke="#1fe81f" stroke-width="3.7"/>
<rect x="804" y="717" width="282" height="119.29999999999995" rx="17" fill="#e9fdb8" filter="url(#glowBlur)"/><rect x="811.8" y="723.8" width="267.4" height="105.60000000000005" rx="13" fill="url(#gBox)" stroke="#1fe81f" stroke-width="3.7"/>
<rect x="804" y="1111" width="283" height="120.5" rx="17" fill="#e9fdb8" filter="url(#glowBlur)"/><rect x="812.8" y="1118.8" width="266.4" height="105.19999999999996" rx="13" fill="url(#gBox)" stroke="#1fe81f" stroke-width="3.7"/>
<rect x="401.5" y="846.5" width="397" height="86.5" rx="16" fill="#fff" stroke="#38d438" stroke-width="3.3" stroke-dasharray="3.3 3.75" />
<path d="M387.1 612.1 H421.3 V603.2 L453.8 620.7 L421.3 638.4 V629.6 H387.1 Z" fill="#fd0303"/>
<path d="M454.9 656.3 H420.5 V647.1 L387.5 664.6 L420.5 682.6 V673.7 H454.9 Z" fill="#fd0303"/>
<path d="M735.6 630.2 H769.6 V621.3 L802.6 638.9 L769.6 656.7 V647.7 H735.6 Z" fill="#fd0303"/>
<path d="M936.3 850.8 H954.2 V885 H963.2 L945.5 918 L927.9 885 H936.3 Z" fill="#fd0303"/>
<path d="M797.2 1159.4 H609.4 V977.8 H617.8 L599.6 944.8 L581.8 977.8 H590.3 V1177.8 H797.2 Z" fill="#fd0303"/>
<path d="M228.4 847.3 L245.7 880 H236.9 V913.8 H219.2 V880 H210.7 Z" fill="#05c7fa"/>
<path d="M263.1 846.3 H280.9 V880.5 H290.1 L272.1 913.4 L254.2 880.5 H263.1 Z" fill="#05c7fa"/>
<text x="248.2" y="750" font-size="15.3" font-weight="bold" text-anchor="middle" fill="#0a0a0a" stroke="#0a0a0a" stroke-width="0.25" textLength="219.5" lengthAdjust="spacingAndGlyphs">PEMOHON KESEKOLAH ASAL</text>
<text x="248.2" y="771.2" font-size="15.3" font-weight="bold" text-anchor="middle" fill="#0a0a0a" stroke="#0a0a0a" stroke-width="0.25" textLength="229.5" lengthAdjust="spacingAndGlyphs">LALU MENYERAHKAN BERKAS</text>
<text x="248.2" y="792.3" font-size="15.3" font-weight="bold" text-anchor="middle" fill="#0a0a0a" stroke="#0a0a0a" stroke-width="0.25" textLength="244.5" lengthAdjust="spacingAndGlyphs">KEPELAYANAN DINAS MEMBAWA</text>
<text x="248.2" y="813.3" font-size="15.3" font-weight="bold" text-anchor="middle" fill="#0a0a0a" stroke="#0a0a0a" stroke-width="0.25" textLength="109.5" lengthAdjust="spacingAndGlyphs">PERSYARATAN</text>
<text x="600" y="750" font-size="15.3" font-weight="bold" text-anchor="middle" fill="#0a0a0a" stroke="#0a0a0a" stroke-width="0.25" textLength="180" lengthAdjust="spacingAndGlyphs">PETUGAS MEMERIKSA</text>
<text x="600" y="771.2" font-size="15.3" font-weight="bold" text-anchor="middle" fill="#0a0a0a" stroke="#0a0a0a" stroke-width="0.25" textLength="194" lengthAdjust="spacingAndGlyphs">KELENGKAPAN BERKAS</text>
<text x="600" y="792.3" font-size="15.3" font-weight="bold" text-anchor="middle" fill="#0a0a0a" stroke="#0a0a0a" stroke-width="0.25" textLength="122" lengthAdjust="spacingAndGlyphs">PERSYARATAN,</text>
<text x="600" y="813.3" font-size="15.3" font-weight="bold" text-anchor="middle" fill="#0a0a0a" stroke="#0a0a0a" stroke-width="0.25" textLength="167" lengthAdjust="spacingAndGlyphs">MEMBUBUHKAN CAP</text>
<text x="945.5" y="760.7" font-size="15.6" font-weight="bold" text-anchor="middle" fill="#0a0a0a" stroke="#0a0a0a" stroke-width="0.25" textLength="236" lengthAdjust="spacingAndGlyphs">KEPALA BIDANG TERKAIT MENELITI</text>
<text x="945.5" y="781.7" font-size="15.6" font-weight="bold" text-anchor="middle" fill="#0a0a0a" stroke="#0a0a0a" stroke-width="0.25" textLength="213" lengthAdjust="spacingAndGlyphs">DAN MEMBERIKAN PARAF PADA</text>
<text x="945.5" y="802.8" font-size="15.6" font-weight="bold" text-anchor="middle" fill="#0a0a0a" stroke="#0a0a0a" stroke-width="0.25" textLength="135" lengthAdjust="spacingAndGlyphs">LEMBAR VERIFIKASI</text>
<text x="945.5" y="1165.5" font-size="15.3" font-weight="bold" text-anchor="middle" fill="#0a0a0a" stroke="#0a0a0a" stroke-width="0.25" textLength="230" lengthAdjust="spacingAndGlyphs">PROSES PENANDATANGANAN</text>
<text x="945.5" y="1186" font-size="15.3" font-weight="bold" text-anchor="middle" fill="#0a0a0a" stroke="#0a0a0a" stroke-width="0.25" textLength="113" lengthAdjust="spacingAndGlyphs">KEPALA DINAS</text>
<text x="600" y="874" font-size="14.4" font-weight="bold" text-anchor="middle" fill="#0a0a0a" stroke="#0a0a0a" stroke-width="0.25" textLength="186" lengthAdjust="spacingAndGlyphs">PETUGAS MEREGISTER,</text>
<text x="600" y="894.8" font-size="14.4" font-weight="bold" text-anchor="middle" fill="#0a0a0a" stroke="#0a0a0a" stroke-width="0.25" textLength="293" lengthAdjust="spacingAndGlyphs">MEMBUBUHKAN STEMPEL DINAS DAN</text>
<text x="600" y="915" font-size="14.4" font-weight="bold" text-anchor="middle" fill="#0a0a0a" stroke="#0a0a0a" stroke-width="0.25" textLength="233" lengthAdjust="spacingAndGlyphs">MENDOKUMENTASIKAN ARSIP</text>
<text x="155" y="83.6" font-size="24.2" font-weight="bold" fill="#0c0c04" stroke="#0c0c04" stroke-width="0.35" textLength="227" lengthAdjust="spacingAndGlyphs">DINAS PENDIDIKAN</text>
<text x="174" y="105.5" font-size="19.9" font-weight="bold" fill="#0c0c04" stroke="#0c0c04" stroke-width="0.3" textLength="188.5" lengthAdjust="spacingAndGlyphs">KABUPATEN BINTAN</text>
<text x="371.79999999999995" y="381.2" font-size="41.9" font-weight="bold" fill="#000" stroke="#000" stroke-width="1.2" stroke-linejoin="miter" letter-spacing="3" word-spacing="-1" textLength="454.2" lengthAdjust="spacingAndGlyphs">PELAYANAN SURAT KETERANGAN</text>
<text x="373.09999999999997" y="381.2" font-size="41.9" font-weight="bold" fill="#000" stroke="#000" stroke-width="1.2" stroke-linejoin="miter" letter-spacing="3" word-spacing="-1" textLength="454.2" lengthAdjust="spacingAndGlyphs">PELAYANAN SURAT KETERANGAN</text>
<text x="374.4" y="381.2" font-size="41.9" font-weight="bold" fill="#000" stroke="#000" stroke-width="1.2" stroke-linejoin="miter" letter-spacing="3" word-spacing="-1" textLength="454.2" lengthAdjust="spacingAndGlyphs">PELAYANAN SURAT KETERANGAN</text>
<text x="419.79999999999995" y="426.4" font-size="41.9" font-weight="bold" fill="#000" stroke="#000" stroke-width="1.2" stroke-linejoin="miter" letter-spacing="3" word-spacing="-1" textLength="356.5" lengthAdjust="spacingAndGlyphs">PENGGANTI IJAZAH/STTB</text>
<text x="421.09999999999997" y="426.4" font-size="41.9" font-weight="bold" fill="#000" stroke="#000" stroke-width="1.2" stroke-linejoin="miter" letter-spacing="3" word-spacing="-1" textLength="356.5" lengthAdjust="spacingAndGlyphs">PENGGANTI IJAZAH/STTB</text>
<text x="422.4" y="426.4" font-size="41.9" font-weight="bold" fill="#000" stroke="#000" stroke-width="1.2" stroke-linejoin="miter" letter-spacing="3" word-spacing="-1" textLength="356.5" lengthAdjust="spacingAndGlyphs">PENGGANTI IJAZAH/STTB</text>
<text x="40.5" y="1376" font-size="21.15" font-weight="bold" fill="#0a0a0a">PERSYARATAN:</text>
<text x="40.5" y="1399.6" font-size="21.15" font-weight="bold" fill="#0a0a0a">1. Surat keterangan pengganti Ijazah dari Sekolah yang mengeluarkan</text>
<text x="40.5" y="1423.4" font-size="21.15" font-weight="bold" fill="#0a0a0a">2. Fotocopy Ijazah/STTB (apabila masih ada)</text>
<text x="40.5" y="1447" font-size="21.15" font-weight="bold" fill="#0a0a0a">3. Fotocopy akta kelahiran</text>
<text x="40.5" y="1470.8" font-size="21.15" font-weight="bold" fill="#0a0a0a">4. Surat keterangan Tanda Lapor Kehilangan dari Kepolisian</text>
<text x="40.5" y="1494.6" font-size="21.15" font-weight="bold" fill="#0a0a0a">5. Surat pertanggungjawaban mutlak diatas materai 10.000</text>
<text x="40.5" y="1518.4" font-size="21.15" font-weight="bold" fill="#0a0a0a">6. Surat keterangan saksi 2 orang</text>
</svg>
</body></html>
